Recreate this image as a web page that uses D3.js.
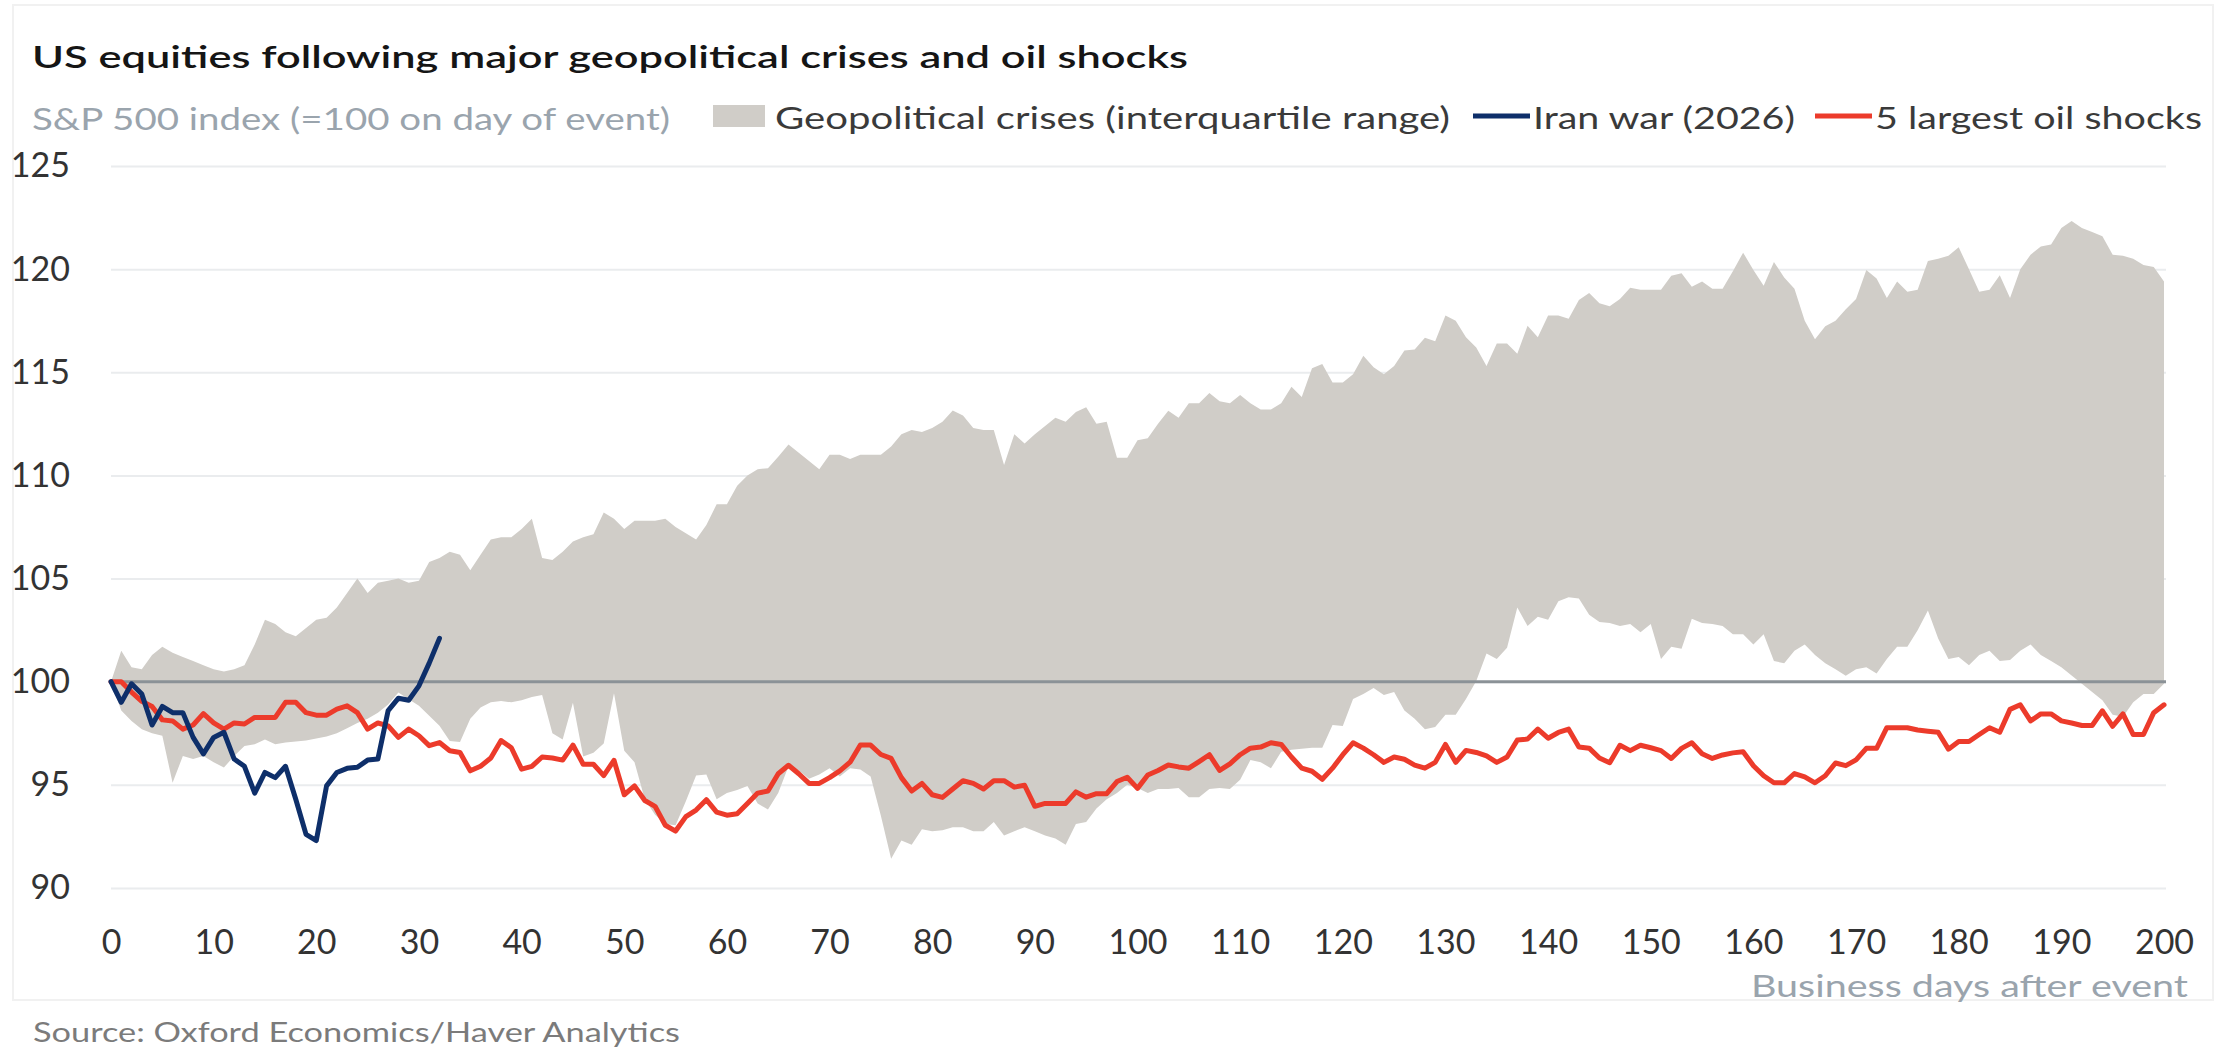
<!DOCTYPE html>
<html>
<head>
<meta charset="utf-8">
<script src="https://cdn.jsdelivr.net/npm/d3@7"></script>
<style>
  html, body { margin: 0; padding: 0; background: #ffffff; }
  svg { display: block; font-family: "Lato", "Open Sans", sans-serif; }
</style>
</head>
<body>
<svg id="chart" width="2234" height="1053"></svg>
<script>
// S&P 500 index (=100 on day of event), one value per business day after the event.

// Geopolitical crises: upper quartile, days 0-200
const crisisUpper = [
  100.0, 101.5, 100.7, 100.6, 101.3, 101.7, 101.4, 101.2, 101.0, 100.8,
  100.6, 100.5, 100.6, 100.8, 101.8, 103.0, 102.8, 102.4, 102.2, 102.6,
  103.0, 103.1, 103.6, 104.3, 105.0, 104.3, 104.8, 104.9, 105.0, 104.8,
  104.9, 105.8, 106.0, 106.3, 106.15, 105.4, 106.15, 106.9, 107.0, 107.0,
  107.4, 107.9, 106.0, 105.9, 106.3, 106.8, 107.0, 107.15, 108.2, 107.9,
  107.4, 107.8, 107.8, 107.8, 107.9, 107.5, 107.2, 106.9, 107.6, 108.6,
  108.6, 109.5, 110.0, 110.3, 110.35, 110.9, 111.5, 111.1, 110.7, 110.3,
  111.0, 111.0, 110.8, 111.0, 111.0, 111.0, 111.4, 112.0, 112.2, 112.1,
  112.3, 112.6, 113.15, 112.9, 112.3, 112.2, 112.2, 110.5, 112.0, 111.55,
  112.0, 112.4, 112.8, 112.6, 113.07, 113.3, 112.5, 112.6, 110.86, 110.86,
  111.7, 111.8, 112.5, 113.14, 112.8, 113.5, 113.5, 114.0, 113.6, 113.5,
  113.9, 113.5, 113.2, 113.2, 113.5, 114.3, 113.8, 115.2, 115.4, 114.5,
  114.5, 114.9, 115.8, 115.25, 114.9, 115.3, 116.06, 116.1, 116.67, 116.5,
  117.75, 117.5, 116.7, 116.2, 115.3, 116.4, 116.4, 115.9, 117.26, 116.7,
  117.75, 117.75, 117.6, 118.5, 118.84, 118.35, 118.2, 118.55, 119.1, 119.0,
  119.0, 119.0, 119.68, 119.8, 119.15, 119.4, 119.05, 119.05, 119.9, 120.8,
  119.96, 119.2, 120.35, 119.6, 119.05, 117.5, 116.6, 117.23, 117.5, 118.05,
  118.55, 119.96, 119.55, 118.6, 119.4, 118.9, 119.0, 120.4, 120.5, 120.65,
  121.06, 120.0, 118.9, 119.0, 119.7, 118.6, 120.0, 120.7, 121.1, 121.2,
  122.0, 122.33, 122.0, 121.8, 121.6, 120.7, 120.65, 120.5, 120.2, 120.1,
  119.4
];

// Geopolitical crises: lower quartile, days 0-200
const crisisLower = [
  100.0, 98.6, 98.1, 97.7, 97.5, 97.38, 95.1, 96.4, 96.25, 96.4,
  96.1, 95.84, 96.4, 96.88, 96.97, 97.2, 96.97, 97.05, 97.1, 97.15,
  97.25, 97.35, 97.5, 97.75, 98.0, 98.2, 98.5, 98.9, 99.48, 99.15,
  98.83, 98.35, 97.86, 97.13, 97.08, 98.2, 98.75, 99.0, 99.07, 99.0,
  99.1, 99.26, 99.35, 97.5, 97.2, 98.98, 96.38, 96.56, 97.0, 99.44,
  96.65, 96.1, 94.3, 93.55, 93.1, 93.04, 94.2, 95.45, 95.5, 94.3,
  94.6, 94.75, 94.95, 94.1, 93.8, 94.6, 95.9, 95.7, 95.3, 95.5,
  95.8, 95.4, 95.8, 95.75, 95.4, 93.5, 91.42, 92.3, 92.1, 92.85,
  92.75, 92.8, 92.95, 92.95, 92.75, 92.75, 93.2, 92.55, 92.75, 92.95,
  92.75, 92.55, 92.4, 92.1, 93.1, 93.2, 93.85, 94.3, 94.6, 95.0,
  94.85, 94.6, 94.8, 94.8, 94.85, 94.4, 94.4, 94.8, 94.85, 94.8,
  95.25, 96.2, 96.1, 95.8, 96.6, 96.7, 96.75, 96.8, 96.8, 97.9,
  97.85, 99.16, 99.4, 99.7, 99.35, 99.5, 98.6, 98.2, 97.7, 97.8,
  98.4, 98.4, 99.16, 100.03, 101.37, 101.1, 101.65, 103.6, 102.7, 103.15,
  103.0, 103.9, 104.1, 104.03, 103.25, 102.9, 102.85, 102.7, 102.8, 102.4,
  102.8, 101.1, 101.7, 101.6, 103.05, 102.85, 102.8, 102.7, 102.3, 102.3,
  101.8, 102.3, 101.0, 100.9, 101.5, 101.8, 101.3, 100.9, 100.6, 100.29,
  100.6, 100.7, 100.4, 101.1, 101.7, 101.7, 102.5, 103.45, 102.1, 101.1,
  101.2, 100.8, 101.3, 101.5, 101.0, 101.05, 101.5, 101.8, 101.3, 101.0,
  100.7, 100.3, 99.9, 99.5, 99.1, 98.4, 98.3, 99.0, 99.4, 99.4,
  99.9
];

// 5 largest oil shocks, days 0-200
const oilShocks = [
  100.0, 100.0, 99.5, 99.05, 98.8, 98.15, 98.1, 97.7, 97.9, 98.45,
  98.0, 97.7, 98.0, 97.95, 98.27, 98.27, 98.27, 99.0, 99.0, 98.5,
  98.38, 98.38, 98.67, 98.83, 98.5, 97.7, 98.0, 97.86, 97.3, 97.7,
  97.38, 96.9, 97.05, 96.65, 96.57, 95.68, 95.9, 96.3, 97.15, 96.8,
  95.76, 95.9, 96.35, 96.3, 96.2, 96.93, 96.0, 96.0, 95.45, 96.19,
  94.52, 94.95, 94.24, 93.96, 93.04, 92.76, 93.46, 93.78, 94.28, 93.68,
  93.53, 93.6, 94.1, 94.6, 94.7, 95.54, 95.95, 95.54, 95.07, 95.07,
  95.35, 95.68, 96.1, 96.93, 96.93, 96.47, 96.28, 95.35, 94.7, 95.07,
  94.52, 94.39, 94.8, 95.2, 95.07, 94.8, 95.2, 95.2, 94.89, 94.98,
  93.96, 94.1, 94.1, 94.1, 94.66, 94.4, 94.57, 94.57, 95.16, 95.37,
  94.83, 95.48, 95.7, 95.96, 95.87, 95.81, 96.13, 96.46, 95.7, 96.02,
  96.46, 96.78, 96.83, 97.04, 96.96, 96.35, 95.81, 95.66, 95.27, 95.81,
  96.46, 97.04, 96.78, 96.46, 96.09, 96.35, 96.24, 95.96, 95.81, 96.09,
  96.96, 96.09, 96.67, 96.57, 96.4, 96.09, 96.35, 97.17, 97.22, 97.7,
  97.26, 97.54, 97.7, 96.83, 96.78, 96.3, 96.07, 96.92, 96.66, 96.92,
  96.8, 96.66, 96.28, 96.77, 97.04, 96.51, 96.28, 96.45, 96.55, 96.6,
  95.93, 95.44, 95.1, 95.1, 95.55, 95.39, 95.1, 95.44, 96.06, 95.93,
  96.21, 96.77, 96.77, 97.77, 97.77, 97.77, 97.66, 97.6, 97.55, 96.73,
  97.1, 97.1, 97.44, 97.77, 97.55, 98.66, 98.88, 98.1, 98.44, 98.44,
  98.1, 98.0, 97.88, 97.88, 98.59, 97.84, 98.44, 97.44, 97.44, 98.5,
  98.88
];

// Iran war (2026), days 0-32
const iranWar = [
  100.0, 99.0, 99.9, 99.4, 97.9, 98.8, 98.5, 98.5, 97.3, 96.5,
  97.3, 97.55, 96.25, 95.9, 94.6, 95.6, 95.35, 95.9, 94.3, 92.6,
  92.3, 94.95, 95.6, 95.8, 95.85, 96.2, 96.25, 98.6, 99.2, 99.1,
  99.8, 100.9, 102.1
];

const yTickValues = [90, 95, 100, 105, 110, 115, 120, 125];
const xTickValues = [0, 10, 20, 30, 40, 50, 60, 70, 80, 90, 100,
                     110, 120, 130, 140, 150, 160, 170, 180, 190, 200];

const titleText = "US equities following major geopolitical crises and oil shocks";
const subtitleText = "S&P 500 index (=100 on day of event)";
const legendLabels = ["Geopolitical crises (interquartile range)", "Iran war (2026)", "5 largest oil shocks"];
const xAxisTitle = "Business days after event";
const sourceText = "Source: Oxford Economics/Haver Analytics";

// ---- styling ----
const colors = {
  band: "#d0cdc8",
  oil: "#ec3b2b",
  iran: "#0e2f6a",
  baseline: "#8b9297",
  grid: "#eaecee",
  tick: "#333333",
  muted: "#9aa4ad",
  legendText: "#3a3a3a",
  source: "#7b7b7b",
  title: "#151515",
  frame: "#f1f1f1"
};

const svg = d3.select("#chart");

const x = d3.scaleLinear().domain([0, 200]).range([111, 2164]);
const y = d3.scaleLinear().domain([90, 125]).range([888, 166]);

const band = crisisUpper.map((u, i) => ({ day: i, hi: u, lo: crisisLower[i] }));
const oil = oilShocks.map((v, i) => ({ day: i, v }));
const iran = iranWar.map((v, i) => ({ day: i, v }));

// light card frame
svg.append("rect")
  .attr("x", 13).attr("y", 5).attr("width", 2200).attr("height", 995)
  .attr("fill", "none").attr("stroke", colors.frame).attr("stroke-width", 2);

// gridlines via axis
const yGrid = d3.axisLeft(y).tickValues(yTickValues).tickSize(-(x(200) - x(0) + 2)).tickFormat("");
svg.append("g")
  .attr("transform", `translate(${x(0)},0)`)
  .call(yGrid)
  .call(g => g.select(".domain").remove())
  .call(g => g.selectAll("line").attr("stroke", colors.grid).attr("stroke-width", 2));

// interquartile band
svg.append("path")
  .datum(band)
  .attr("fill", colors.band)
  .attr("d", d3.area().x(d => x(d.day)).y0(d => y(d.lo)).y1(d => y(d.hi)));

// reference line at 100
svg.append("line")
  .attr("x1", x(0)).attr("x2", x(200) + 2)
  .attr("y1", y(100)).attr("y2", y(100))
  .attr("stroke", colors.baseline).attr("stroke-width", 3);

const line = d3.line().x(d => x(d.day)).y(d => y(d.v));

svg.append("path").datum(oil)
  .attr("fill", "none").attr("stroke", colors.oil)
  .attr("stroke-width", 5).attr("stroke-linejoin", "round").attr("stroke-linecap", "round")
  .attr("d", line);

svg.append("path").datum(iran)
  .attr("fill", "none").attr("stroke", colors.iran)
  .attr("stroke-width", 5).attr("stroke-linejoin", "round").attr("stroke-linecap", "round")
  .attr("d", line);

// y axis labels
const yAxis = d3.axisLeft(y).tickValues(yTickValues).tickSize(0).tickPadding(0).tickFormat(d3.format("d"));
svg.append("g")
  .attr("transform", "translate(70,0)")
  .call(yAxis)
  .call(g => g.select(".domain").remove())
  .call(g => g.selectAll("text")
    .attr("fill", colors.tick).attr("font-size", 34)
    .attr("font-family", "Lato, 'Open Sans', sans-serif"));

// x axis labels
const xAxis = d3.axisBottom(x).tickValues(xTickValues).tickSize(0).tickPadding(0).tickFormat(d3.format("d"));
svg.append("g")
  .attr("transform", "translate(0,930)")
  .call(xAxis)
  .call(g => g.select(".domain").remove())
  .call(g => g.selectAll("text")
    .attr("fill", colors.tick).attr("font-size", 34)
    .attr("font-family", "Lato, 'Open Sans', sans-serif"));

// text helper: fixed left/right anchor with a target width
function label(txt, xPos, yPos, size, fill, width, opts = {}) {
  const t = svg.append("text")
    .attr("x", xPos).attr("y", yPos)
    .attr("font-size", size).attr("fill", fill)
    .attr("font-weight", opts.weight || 400)
    .attr("text-anchor", opts.anchor || "start")
    .text(txt);
  if (width) t.attr("textLength", width).attr("lengthAdjust", "spacingAndGlyphs");
  return t;
}

label(titleText, 32, 68, 31, colors.title, 1156, { weight: 600 });
label(subtitleText, 32, 130, 31, colors.muted, 638);

// legend
svg.append("rect").attr("x", 713).attr("y", 105).attr("width", 52).attr("height", 22).attr("fill", colors.band);
label(legendLabels[0], 775, 129, 31, colors.legendText, 675);
svg.append("line").attr("x1", 1473).attr("x2", 1530).attr("y1", 116).attr("y2", 116)
  .attr("stroke", colors.iran).attr("stroke-width", 5);
label(legendLabels[1], 1533, 129, 31, colors.legendText, 262);
svg.append("line").attr("x1", 1815).attr("x2", 1872).attr("y1", 116).attr("y2", 116)
  .attr("stroke", colors.oil).attr("stroke-width", 5);
label(legendLabels[2], 1875, 129, 31, colors.legendText, 327);

label(xAxisTitle, 2188, 997, 30, colors.muted, 437, { anchor: "end" });
label(sourceText, 33, 1042, 27, colors.source, 647);
</script>
</body>
</html>
